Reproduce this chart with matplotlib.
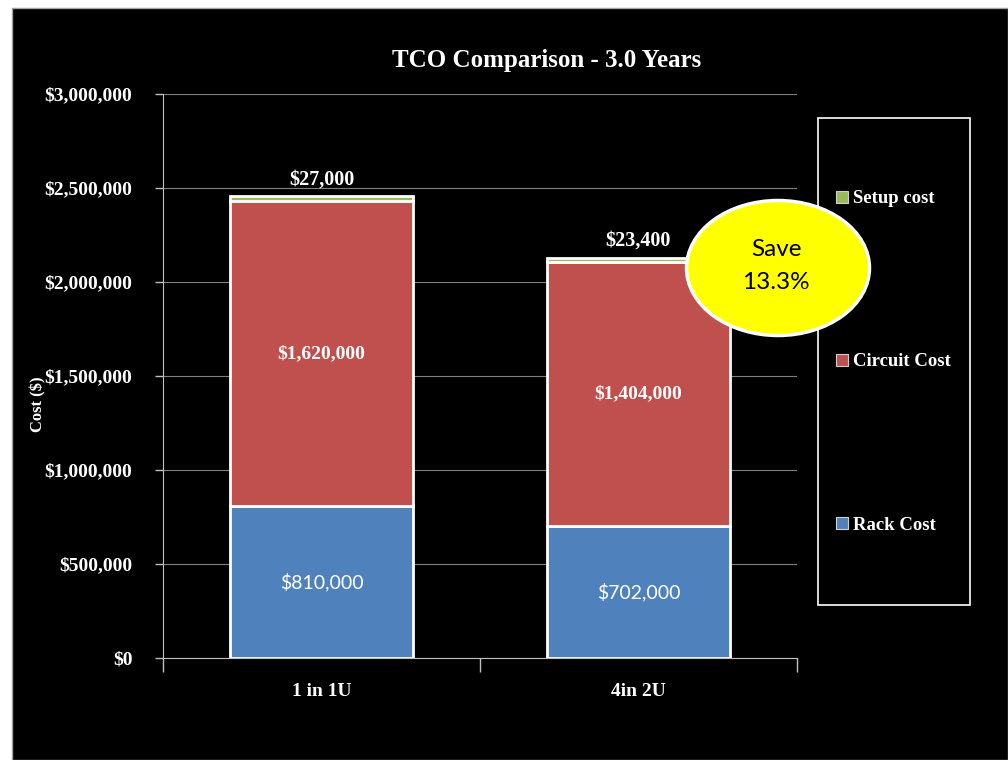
import matplotlib
matplotlib.use("Agg")
import matplotlib.pyplot as plt
from matplotlib.patches import Rectangle, Ellipse
from matplotlib.ticker import FuncFormatter
import numpy as np

categories = ['1 in 1U', '4in 2U']
rack_cost = [810000, 702000]
circuit_cost = [1620000, 1404000]
setup_cost = [27000, 23400]
save_text = 'Save\n13.3%'

serif = 'Liberation Serif'
sans = 'Lato'

fig = plt.figure(figsize=(10.08, 7.6), dpi=100, facecolor='white')
# black chart area with thin grey border
fig.patches.append(Rectangle((12/1008, 0), 1 - 12/1008, 1 - 8/760, transform=fig.transFigure,
                             facecolor='black', edgecolor='#a0a0a0', linewidth=1, zorder=0))

ax = fig.add_axes([163/1008, 1 - 658/760, 634/1008, 564/760])
ax.set_zorder(2)
ax.set_facecolor('black')

x = np.arange(len(categories))
w = 0.577
rack = np.array(rack_cost)
circ = np.array(circuit_cost)
setup = np.array(setup_cost)

b1 = ax.bar(x, rack, w, color='#4F81BD', edgecolor='white', linewidth=2, label='Rack Cost', zorder=3)
b2 = ax.bar(x, circ, w, bottom=rack, color='#C0504D', edgecolor='white', linewidth=2, label='Circuit Cost', zorder=3)
b3 = ax.bar(x, setup, w, bottom=rack + circ, color='#9BBB59', edgecolor='white', linewidth=2, label='Setup cost', zorder=3)

for i in x:
    ax.text(i, rack[i] / 2, f'${rack[i]:,}', ha='center', va='center', color='white',
            fontsize=14, family=sans, zorder=4)
    ax.text(i, rack[i] + circ[i] / 2, f'${circ[i]:,}', ha='center', va='center', color='white',
            fontsize=14, family=serif, fontweight='bold', zorder=4)
    ax.text(i, rack[i] + circ[i] + setup[i] + 35000, f'${setup[i]:,}', ha='center', va='bottom',
            color='white', fontsize=14.5, family=serif, fontweight='bold', zorder=4)

ax.set_xlim(-0.5, 1.5)
ax.set_ylim(0, 3000000)
ax.set_yticks(np.arange(0, 3000001, 500000))
ax.yaxis.set_major_formatter(FuncFormatter(lambda v, p: f'${int(v):,}'))
ax.grid(axis='y', color='#808080', linewidth=0.8, zorder=0)

ax.set_xticks(x)
ax.set_xticklabels(categories)
ax.set_xticks([-0.5, 0.5, 1.5], minor=True)
ax.tick_params(axis='x', which='major', length=0, pad=18)
ax.tick_params(axis='x', which='minor', length=10, color='#c0c0c0', width=1)
ax.tick_params(axis='y', length=6, color='#c0c0c0', width=1, pad=16)
for lab in ax.get_xticklabels() + ax.get_yticklabels():
    lab.set_color('white')
    lab.set_family(serif)
    lab.set_fontweight('bold')
    lab.set_fontsize(14)

for s in ['top', 'right']:
    ax.spines[s].set_visible(False)
ax.spines['left'].set_color('#c0c0c0')
ax.spines['bottom'].set_color('#c0c0c0')

ax.set_ylabel('Cost ($)', color='white', family=serif, fontweight='bold', fontsize=12)
ax.yaxis.set_label_coords(-0.184, 0.45)

fig.text(547/1008, 1 - 61/760, 'TCO Comparison - 3.0 Years', ha='center', va='center',
         color='white', family=serif, fontweight='bold', fontsize=18)

# legend
fig.patches.append(Rectangle((818/1008, 1 - 605/760), 152/1008, 487/760, transform=fig.transFigure,
                             facecolor='none', edgecolor='white', linewidth=1.2, zorder=1))
leg = fig.legend(handles=[b3, b2, b1], loc='center left', bbox_to_anchor=(819/1008, 1 - 362/760),
                 frameon=False, labelspacing=7.8, handlelength=0.62, handleheight=0.62,
                 handletextpad=0.3, prop={'family': serif, 'weight': 'bold', 'size': 13.5})
for t in leg.get_texts():
    t.set_color('white')
for h in leg.legend_handles:
    h.set_edgecolor('#d0d0d0')
    h.set_linewidth(0.8)

# savings callout
fig.patches.append(Ellipse((778/1008, 1 - 268/760), 183/1008, 135/760, transform=fig.transFigure,
                           facecolor='#FFFF00', edgecolor='white', linewidth=2.5, zorder=5))
fig.text(776/1008, 1 - 266/760, save_text, ha='center', va='center', color='black',
         family=sans, fontsize=17.5, linespacing=1.7, zorder=6)

fig.savefig('out.png', dpi=100, facecolor='white')
